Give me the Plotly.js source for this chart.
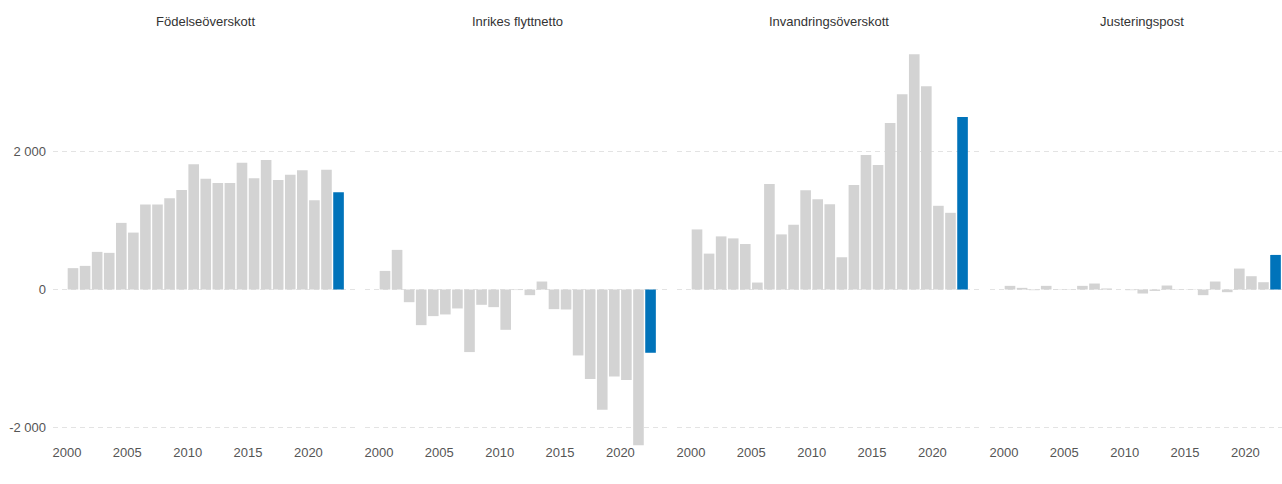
<!DOCTYPE html>
<html>
<head>
<meta charset="utf-8">
<script src="https://cdn.plot.ly/plotly-3.0.1.min.js"></script>
<style>html,body{margin:0;padding:0;background:#fff;overflow:hidden}</style>
</head>
<body>
<div id="chart" style="width:1282px;height:484px"></div>
<script>
const years = [2000,2001,2002,2003,2004,2005,2006,2007,2008,2009,2010,2011,2012,2013,2014,2015,2016,2017,2018,2019,2020,2021,2022];
const panelTitles = ["Födelseöverskott","Inrikes flyttnetto","Invandringsöverskott","Justeringspost"];
const fodelse = [310,343,546,532,967,826,1232,1232,1325,1445,1817,1609,1546,1546,1841,1614,1880,1590,1667,1730,1296,1739,1412];
const inrikes = [270,575,-184,-517,-386,-362,-275,-908,-222,-256,-585,-8,-82,116,-285,-290,-957,-1300,-1744,-1261,-1314,-2261,-918];
const invandring = [872,521,771,742,660,101,1533,800,940,1441,1311,1239,468,1518,1952,1808,2415,2834,3413,2950,1215,1113,2502];
const justering = [53,24,-10,53,5,-5,53,87,15,0,-10,-58,-20,58,5,-5,-82,116,-39,304,193,106,502];
const xTickYears = [2000,2005,2010,2015,2020];
const yTickVals = [-2000,0,2000];
const yTickText = ["-2 000","0","2 000"];

const series = [fodelse, inrikes, invandring, justering];
const grey = "#d3d3d3", blue = "#0073ba";
const W = 1282;
const domainsPx = [[53,357],[365,669],[677,981],[990,1282]];
const pxPerYear = 12.07;
const x0 = 2000 - 20/pxPerYear;

const traces = series.map((vals,i)=>({
  type:"bar",
  x: years,
  y: vals,
  xaxis: i===0 ? "x" : "x"+(i+1),
  yaxis: i===0 ? "y" : "y"+(i+1),
  marker:{color: years.map((y,k)=> k===years.length-1 ? blue : grey), line:{width:0}},
  hoverinfo:"x+y",
  showlegend:false
}));

const layout = {
  width: 1282, height: 484,
  margin:{l:0,r:0,t:38,b:36},
  paper_bgcolor:"#fff", plot_bgcolor:"#fff",
  bargap:0.12,
  font:{family:"Liberation Sans, Arial, sans-serif", size:13, color:"#555"},
  showlegend:false,
  yaxis:{
    range:[-2300,3650],
    domain:[0,1],
    anchor:"x",
    tickvals: yTickVals, ticktext: yTickText,
    showgrid:true, gridcolor:"#e3e3e3", griddash:"5px,4px", gridwidth:1,
    zeroline:false, showline:false, ticks:"",
    ticklabelstandoff:6,
    tickfont:{size:13,color:"#555"}
  },
  annotations:[]
};
domainsPx.forEach((d,i)=>{
  const key = i===0 ? "xaxis" : "xaxis"+(i+1);
  const span = (d[1]-d[0])/pxPerYear;
  layout[key] = {
    domain:[d[0]/W, d[1]/W],
    range:[x0, x0+span],
    anchor: i===0 ? "y" : "y"+(i+1),
    tickvals: xTickYears.map(y=>y-0.5),
    ticktext: xTickYears.map(String),
    showgrid:false, zeroline:false, showline:false, ticks:"",
    ticklabelstandoff:-5,
    tickfont:{size:13,color:"#555"}
  };
  layout.annotations.push({
    text: panelTitles[i], xref:"paper", yref:"paper",
    x: (d[0]+152)/W, y: 1+16/410, xanchor:"center", yanchor:"middle",
    showarrow:false, font:{size:13,color:"#333"}
  });
});
for(let i=1;i<4;i++){
  layout["yaxis"+(i+1)] = {
    range:[-2300,3650], anchor:"x"+(i+1), overlaying:"y",
    tickvals:yTickVals, showticklabels:false,
    showgrid:true, gridcolor:"#e3e3e3", griddash:"5px,4px", gridwidth:1,
    zeroline:false, showline:false, ticks:""
  };
}
Plotly.newPlot("chart", traces, layout, {displayModeBar:false, staticPlot:true});
</script>
</body>
</html>
